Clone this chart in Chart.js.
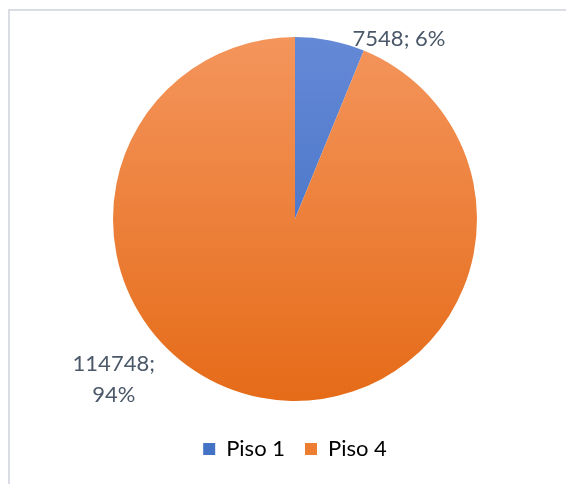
<!DOCTYPE html>
<html>
<head>
<meta charset="utf-8">
<script src="https://cdn.jsdelivr.net/npm/chart.js@4"></script>
<style>
  html, body { margin: 0; padding: 0; background: #fff; }
  #wrap { position: relative; width: 566px; height: 484px; }
  #frame { position: absolute; left: 8px; top: 9px; right: 0; bottom: 0;
           border-top: 2px solid #dadde3; border-left: 2px solid #dadde3; }
  canvas { position: absolute; left: 0; top: 0; }
</style>
</head>
<body>
<div id="wrap">
  <div id="frame"></div>
  <canvas id="pie" width="566" height="484"></canvas>
</div>
<script>
// --- Data ---
const labels = ['Piso 1', 'Piso 4'];
const values = [7548, 114748];
const percents = ['6%', '94%'];

// gradient stops (top -> bottom) for each slice
const GRADS = [
  ['#6489d6', '#3a69c0'],
  ['#f4955c', '#e56b18']
];
const SOLID = ['#4472c4', '#ed7d31'];
const TEXT = '#4b5869';
const RADIUS = 182;

function sliceFill(ctx) {
  const area = ctx.chart.chartArea;
  if (!area) return SOLID[ctx.dataIndex];
  const cy = (area.top + area.bottom) / 2;
  const g = ctx.chart.ctx.createLinearGradient(0, cy - RADIUS, 0, cy + RADIUS);
  g.addColorStop(0, GRADS[ctx.dataIndex][0]);
  g.addColorStop(1, GRADS[ctx.dataIndex][1]);
  return g;
}

// --- data labels: "value; pct" placed around the pie ---
const pieLabels = {
  id: 'pieLabels',
  afterDatasetsDraw(chart, args, opts) {
    const c = chart.ctx;
    const arcs = chart.getDatasetMeta(0).data;
    c.save();
    c.font = opts.font;
    c.fillStyle = TEXT;
    c.textAlign = 'center';
    c.textBaseline = 'middle';
    arcs.forEach((a, i) => {
      const p = opts.place[i];
      const ang = (p.angle - 90) * Math.PI / 180;
      const d = a.outerRadius + p.gap;
      const x = a.x + Math.cos(ang) * d;
      const y = a.y + Math.sin(ang) * d;
      const lines = p.wrap
        ? [values[i] + ';', percents[i]]
        : [values[i] + '; ' + percents[i]];
      const lh = opts.lineHeight;
      lines.forEach((t, k) => {
        c.fillText(t, x, y + (k - (lines.length - 1) / 2) * lh);
      });
    });
    c.restore();
  }
};

new Chart(document.getElementById('pie'), {
  type: 'pie',
  data: {
    labels: labels,
    datasets: [{
      data: values,
      backgroundColor: sliceFill,
      borderColor: '#ffffff',
      borderWidth: 0
    }]
  },
  plugins: [pieLabels],
  options: {
    responsive: false,
    animation: false,
    radius: RADIUS,
    layout: { padding: { left: 24, right: 0, top: 20, bottom: 14 } },
    plugins: {
      tooltip: { enabled: false },
      legend: {
        position: 'bottom',
        labels: {
          boxWidth: 12,
          boxHeight: 12,
          padding: 20,
          color: TEXT,
          font: { family: 'Lato', size: 22 },
          generateLabels: chart => labels.map((l, i) => ({
            text: l,
            fillStyle: SOLID[i],
            strokeStyle: SOLID[i],
            lineWidth: 0,
            index: i
          }))
        }
      },
      pieLabels: {
        font: '22px Lato',
        lineHeight: 31,
        place: [
          { angle: 30, gap: 26, wrap: false },
          { angle: 228.5, gap: 60, wrap: true }
        ]
      }
    }
  }
});
</script>
</body>
</html>
